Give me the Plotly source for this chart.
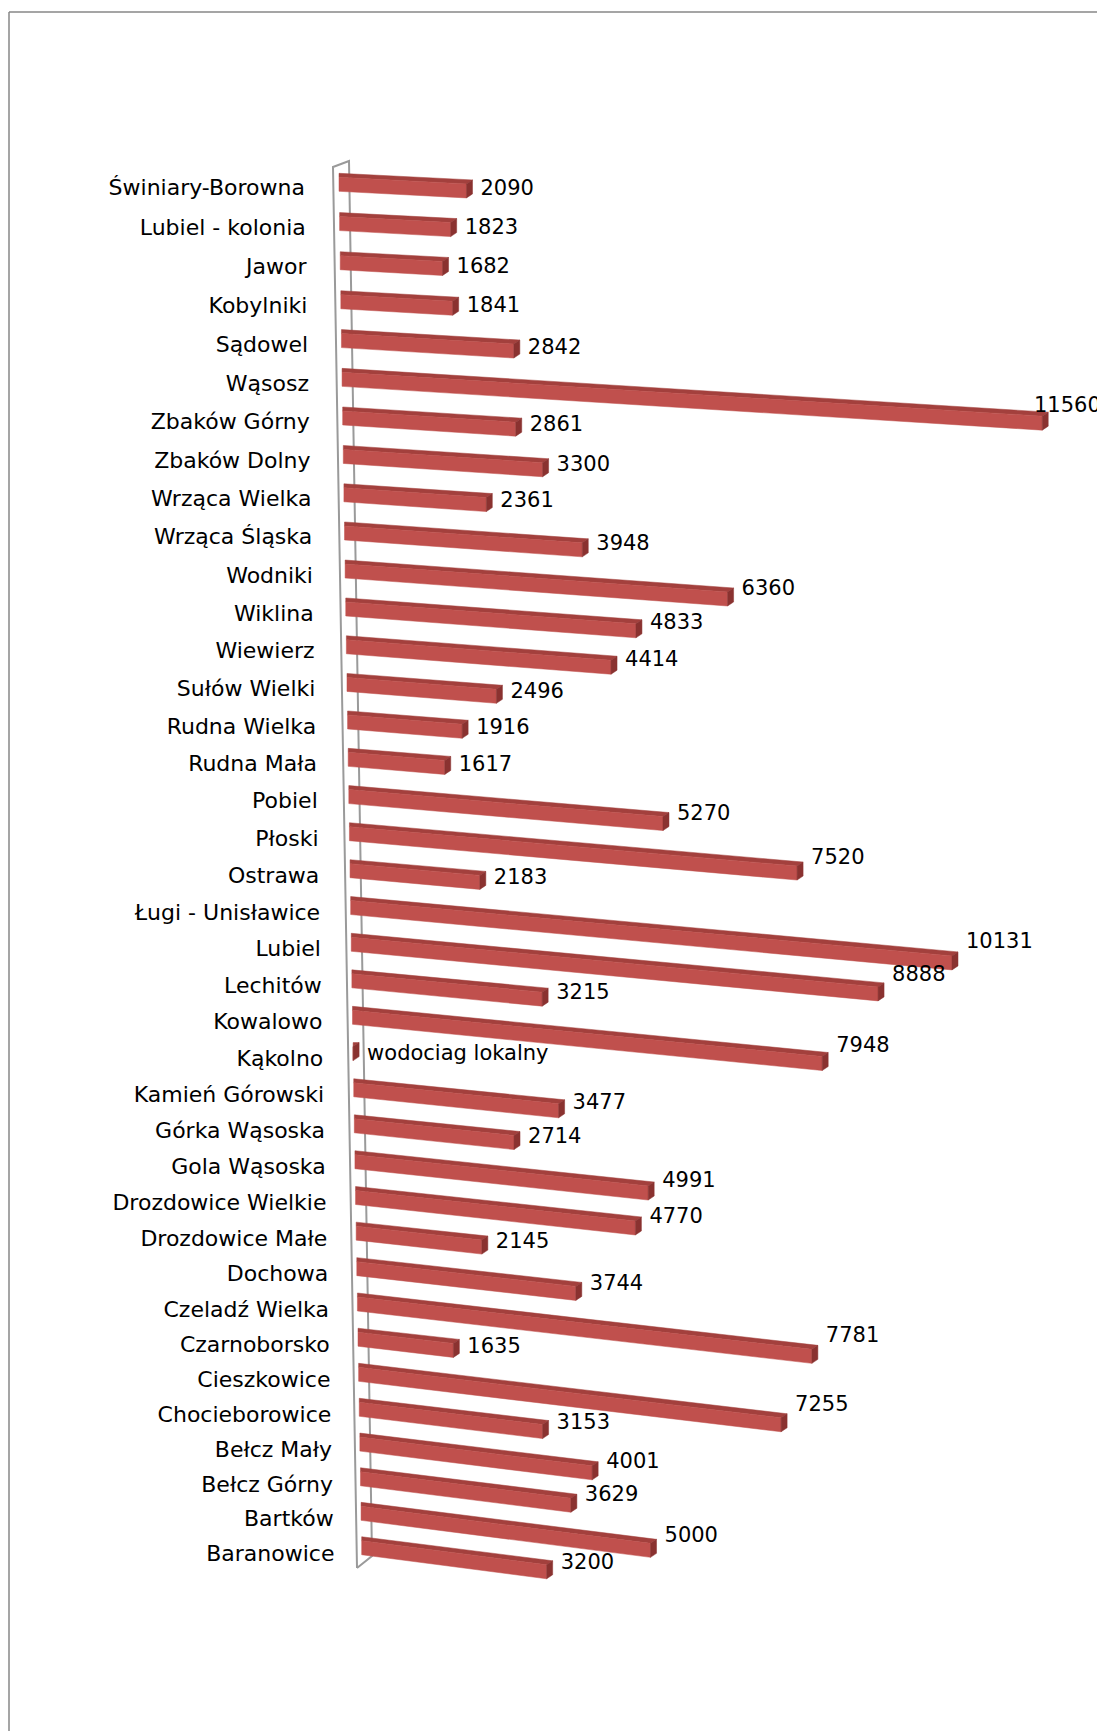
import plotly.graph_objects as go

# dane: miejscowości od góry do dołu i wartości słupków
categories = [
    'Świniary-Borowna', 'Lubiel - kolonia', 'Jawor', 'Kobylniki', 'Sądowel',
    'Wąsosz', 'Zbaków Górny', 'Zbaków Dolny', 'Wrząca Wielka', 'Wrząca Śląska',
    'Wodniki', 'Wiklina', 'Wiewierz', 'Sułów Wielki', 'Rudna Wielka',
    'Rudna Mała', 'Pobiel', 'Płoski', 'Ostrawa', 'Ługi - Unisławice',
    'Lubiel', 'Lechitów', 'Kowalowo', 'Kąkolno', 'Kamień Górowski',
    'Górka Wąsoska', 'Gola Wąsoska', 'Drozdowice Wielkie', 'Drozdowice Małe', 'Dochowa',
    'Czeladź Wielka', 'Czarnoborsko', 'Cieszkowice', 'Chocieborowice', 'Bełcz Mały',
    'Bełcz Górny', 'Bartków', 'Baranowice',
]
values = [
    2090, 1823, 1682, 1841, 2842,
    11560, 2861, 3300, 2361, 3948,
    6360, 4833, 4414, 2496, 1916,
    1617, 5270, 7520, 2183, 10131,
    8888, 3215, 7948, 0, 3477,
    2714, 4991, 4770, 2145, 3744,
    7781, 1635, 7255, 3153, 4001,
    3629, 5000, 3200,
]
value_labels = [str(v) for v in values]
value_labels[categories.index('Kąkolno')] = 'wodociag lokalny'

W, H = 1105, 1731
PAGE_MARGIN = 8  # domyślny margines <body> w przeglądarce
n = len(categories)
front_color = '#C0504D'
top_color = '#A3403D'
cap_color = '#8A3230'
wall_color = '#9A9A9A'
FONT = 'DejaVu Sans'

# rzut perspektywiczny wykresu 3D (pozycja w wierszu -> współrzędne ekranu)
def frac(i):
    return i / (n - 1)

def bar_left(i):
    return 339 + 22.7 * frac(i)

def bar_top(i):
    return 173.3 + 39.35 * i - 2.5 * i * i / (n - 1)

def px_per_unit(i):
    return 0.061 - 0.0032 * frac(i)

def slope(i):
    return 0.052 + 0.078 * frac(i)

DEPTH = 4
FACE_H = 14
CAP_W = 6

traces = []

# ścianka boczna (oś kategorii)
wall_x = [357, 333, 349, 372, 357]
wall_y = [1568, 167, 161, 1556, 1568]
traces.append(go.Scatter(x=wall_x, y=wall_y, mode='lines',
                         line=dict(color=wall_color, width=2), hoverinfo='skip'))

lab_x, lab_y = [], []
cat_x, cat_y = [], []
for i, v in enumerate(values):
    x0 = bar_left(i)
    y0 = bar_top(i) + DEPTH
    L = px_per_unit(i) * v
    d = slope(i) * L
    x1 = x0 + L
    # górna ściana
    traces.append(go.Scatter(
        x=[x0, x1, x1 + CAP_W, x0, x0],
        y=[y0, y0 + d, y0 + d - DEPTH, y0 - DEPTH, y0],
        fill='toself', fillcolor=top_color, mode='lines',
        line=dict(color=top_color, width=0.5), hoverinfo='skip'))
    # przednia ściana
    traces.append(go.Scatter(
        x=[x0, x1, x1, x0, x0],
        y=[y0, y0 + d, y0 + d + FACE_H, y0 + FACE_H, y0],
        fill='toself', fillcolor=front_color, mode='lines',
        line=dict(color=front_color, width=0.5), hoverinfo='skip',
        name=categories[i]))
    # czoło słupka
    traces.append(go.Scatter(
        x=[x1, x1 + CAP_W, x1 + CAP_W, x1, x1],
        y=[y0 + d, y0 + d - DEPTH, y0 + d + FACE_H - DEPTH, y0 + d + FACE_H, y0 + d],
        fill='toself', fillcolor=cap_color, mode='lines',
        line=dict(color=cap_color, width=0.5), hoverinfo='skip'))
    lab_x.append(min(x1 + CAP_W + 8, 1034))
    lab_y.append(y0 + 8.5 + 0.6 * d)
    cat_x.append(305 + 29.5 * frac(i))
    cat_y.append(y0 + 12.5 + 2 * frac(i))

traces.append(go.Scatter(x=cat_x, y=cat_y, mode='text', text=categories,
                         textposition='middle left',
                         textfont=dict(family=FONT, size=22, color='black'),
                         hoverinfo='skip'))
traces.append(go.Scatter(x=lab_x, y=lab_y, mode='text', text=value_labels,
                         textposition='middle right',
                         textfont=dict(family=FONT, size=21, color='black'),
                         hoverinfo='skip'))

fig = go.Figure(data=traces)

fig.update_layout(
    width=W - PAGE_MARGIN, height=H - PAGE_MARGIN,
    margin=dict(l=0, r=0, t=0, b=0),
    paper_bgcolor='white', plot_bgcolor='white',
    showlegend=False,
    xaxis=dict(range=[PAGE_MARGIN, W], visible=False, fixedrange=True),
    yaxis=dict(range=[H, PAGE_MARGIN], visible=False, fixedrange=True),
    shapes=[
        dict(type='line', xref='x', yref='y', x0=9, x1=W, y0=12, y1=12,
             line=dict(color='#878787', width=1.5)),
        dict(type='line', xref='x', yref='y', x0=9, x1=9, y0=12, y1=H,
             line=dict(color='#878787', width=1.5)),
    ],
)

fig.write_html('out.html')
